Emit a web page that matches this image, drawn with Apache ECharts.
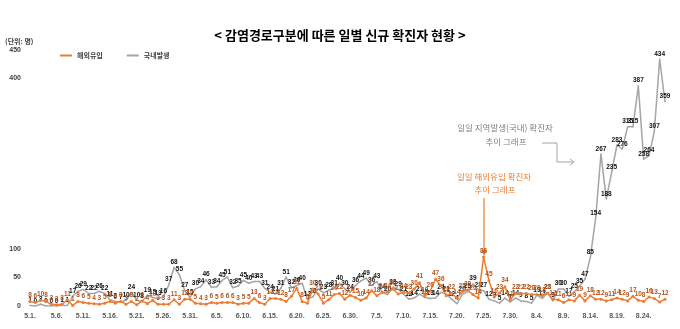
<!DOCTYPE html>
<html><head><meta charset="utf-8">
<script src="https://cdn.jsdelivr.net/npm/echarts@6/dist/echarts.min.js"></script>
<style>html,body{margin:0;padding:0;background:#fff}#c{width:680px;height:329px}</style>
</head><body><div id="c"></div>
<script>
const datesMay = ['5.1.','5.2.','5.3.','5.4.','5.5.','5.6.','5.7.','5.8.','5.9.','5.10.','5.11.','5.12.','5.13.','5.14.','5.15.','5.16.','5.17.','5.18.','5.19.','5.20.','5.21.','5.22.','5.23.','5.24.','5.25.','5.26.','5.27.','5.28.','5.29.','5.30.','5.31.'];
const datesJun = ['6.1.','6.2.','6.3.','6.4.','6.5.','6.6.','6.7.','6.8.','6.9.','6.10.','6.11.','6.12.','6.13.','6.14.','6.15.','6.16.','6.17.','6.18.','6.19.','6.20.','6.21.','6.22.','6.23.','6.24.','6.25.','6.26.','6.27.','6.28.','6.29.','6.30.'];
const datesJul = ['7.1.','7.2.','7.3.','7.4.','7.5.','7.6.','7.7.','7.8.','7.9.','7.10.','7.11.','7.12.','7.13.','7.14.','7.15.','7.16.','7.17.','7.18.','7.19.','7.20.','7.21.','7.22.','7.23.','7.24.','7.25.','7.26.','7.27.','7.28.','7.29.','7.30.','7.31.'];
const datesAug = ['8.1.','8.2.','8.3.','8.4.','8.5.','8.6.','8.7.','8.8.','8.9.','8.10.','8.11.','8.12.','8.13.','8.14.','8.15.','8.16.','8.17.','8.18.','8.19.','8.20.','8.21.','8.22.','8.23.','8.24.','8.25.','8.26.','8.27.','8.28.'];

const domesticMay = [1,0,3,0,0,0,1,1,17,26,29,22,22,26,22,11,8,7,10,24,10,8,19,15,13,16,37,68,55,27,15];
const domesticJun = [30,34,46,33,34,45,51,32,35,45,40,43,43,31,24,21,31,51,32,36,40,12,16,30,23,28,31,40,30,24];
const domesticJul = [36,44,49,36,43,24,20,33,29,21,12,14,21,15,13,14,24,21,12,4,20,25,39,28,27,12,9,5,14,7,14];
const domesticAug = [9,8,5,19,13,23,9,30,30,17,25,35,47,85,154,267,188,235,283,276,315,315,387,258,264,307,434,359];

const importedMay = [8,6,10,8,3,2,3,11,1,8,6,5,4,3,5,8,5,8,3,8,2,9,4,10,3,3,3,11,3,12,12];
const importedJun = [5,4,3,6,5,6,6,6,3,5,5,13,6,3,13,13,12,8,17,31,8,5,30,21,5,11,20,22,12,19];
const importedJul = [15,10,14,27,18,24,24,30,21,24,23,30,41,18,26,47,36,18,22,14,25,28,20,14,86,45,16,23,34,11,22];
const importedAug = [22,22,20,20,18,23,12,11,6,11,9,19,9,18,12,12,9,11,14,12,9,17,10,8,16,13,7,12];

const yTicksShown = [0, 50, 100, 400, 450];

const categories = datesMay.concat(datesJun, datesJul, datesAug);
const domestic = domesticMay.concat(domesticJun, domesticJul, domesticAug);
const imported = importedMay.concat(importedJun, importedJul, importedAug);

const KR = '"Noto Sans CJK KR","Noto Sans",sans-serif';
const NUM = '"Liberation Sans",Arial,sans-serif';
const gray = '#A5A5A5', orange = '#ED7D31';

const chart = echarts.init(document.getElementById('c'), null, {renderer: 'canvas'});
chart.setOption({
  animation: false,
  backgroundColor: '#fff',
  title: {
    text: '< 감염경로구분에 따른 일별 신규 확진자 현황 >',
    left: 'center', top: 24,
    textStyle: {fontFamily: KR, fontSize: 13, fontWeight: 'bold', color: '#000'}
  },
  legend: {
    left: 55, top: 47, itemWidth: 12, itemHeight: 2, itemGap: 24,
    icon: 'rect',
    textStyle: {fontFamily: KR, fontSize: 7, fontWeight: 'bold', color: '#404040'},
    data: ['해외유입', '국내발생']
  },
  grid: {left: 30, right: 15, top: 50, bottom: 23, containLabel: false},
  xAxis: {
    type: 'category', data: categories, boundaryGap: false,
    axisLine: {show: false}, axisTick: {show: false},
    axisLabel: {interval: 4, fontFamily: NUM, fontSize: 7, fontWeight: 'bold', color: '#595959', margin: 7},
    splitLine: {show: false}
  },
  yAxis: {
    type: 'value', min: 0, max: 450, interval: 50,
    axisLine: {show: false}, axisTick: {show: false}, splitLine: {show: false},
    axisLabel: {
      fontFamily: NUM, fontSize: 7, fontWeight: 'bold', color: '#404040', margin: 9,
      formatter: v => yTicksShown.indexOf(v) >= 0 ? String(v) : ''
    }
  },
  series: [
    {
      name: '해외유입', type: 'line', data: imported, z: 4,
      color: orange,
      lineStyle: {color: orange, width: 1.5},
      symbol: 'circle', symbolSize: 3, showAllSymbol: true,
      itemStyle: {color: orange},
      label: {show: true, position: 'top', distance: 1, fontFamily: NUM, fontSize: 6.5, fontWeight: 'bold', color: '#B4541A'}
    },
    {
      name: '국내발생', type: 'line', data: domestic, z: 3,
      color: gray,
      lineStyle: {color: gray, width: 1.5},
      symbol: 'circle', symbolSize: 1.5, showAllSymbol: true,
      itemStyle: {color: gray},
      label: {show: true, position: 'top', distance: 1, fontFamily: NUM, fontSize: 6.5, fontWeight: 'bold', color: '#111'}
    }
  ],
  graphic: [
    {type: 'text', x: 5, y: 38, style: {text: '(단위: 명)', font: 'bold 7px ' + KR, fill: '#404040'}},
    {type: 'text', x: 505, y: 128, style: {text: '일일 지역발생(국내) 확진자', font: '8.5px ' + KR, fill: '#7F7F7F', textAlign: 'center', textVerticalAlign: 'middle'}},
    {type: 'text', x: 506, y: 142, style: {text: '추이 그래프', font: '8.5px ' + KR, fill: '#7F7F7F', textAlign: 'center', textVerticalAlign: 'middle'}},
    {type: 'polyline', shape: {points: [[542,143],[557,143],[557,162],[574,162]]}, style: {stroke: '#A5A5A5', lineWidth: 1, fill: null}},
    {type: 'polyline', shape: {points: [[570,159],[574,162],[570,165]]}, style: {stroke: '#A5A5A5', lineWidth: 1, fill: null}},
    {type: 'text', x: 494, y: 177, style: {text: '일일 해외유입 확진자', font: '8.5px ' + KR, fill: '#ED7D31', textAlign: 'center', textVerticalAlign: 'middle'}},
    {type: 'text', x: 495, y: 190, style: {text: '추이 그래프', font: '8.5px ' + KR, fill: '#ED7D31', textAlign: 'center', textVerticalAlign: 'middle'}},
    {type: 'line', shape: {x1: 484, y1: 198, x2: 484, y2: 254}, style: {stroke: '#ED7D31', lineWidth: 1.2}},
    {type: 'polygon', shape: {points: [[481,250],[487,250],[484,256]]}, style: {fill: '#ED7D31'}}
  ]
});
</script></body></html>
